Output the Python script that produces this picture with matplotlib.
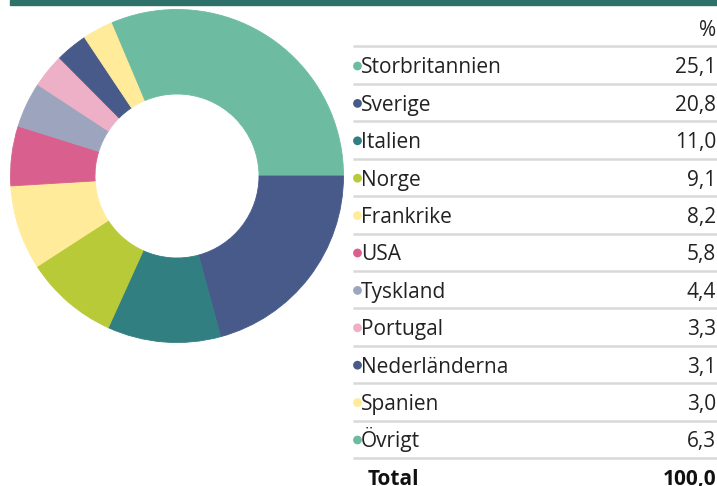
import matplotlib.pyplot as plt
from matplotlib.patches import Rectangle

# Data
countries = ['Storbritannien', 'Sverige', 'Italien', 'Norge', 'Frankrike', 'USA',
             'Tyskland', 'Portugal', 'Nederländerna', 'Spanien', 'Övrigt']
shares = [25.1, 20.8, 11.0, 9.1, 8.2, 5.8, 4.4, 3.3, 3.1, 3.0, 6.3]
share_labels = ['25,1', '20,8', '11,0', '9,1', '8,2', '5,8', '4,4', '3,3', '3,1', '3,0', '6,3']
total_label = '100,0'
colors = ['#6DBBA1', '#485A8A', '#327F82', '#B9CA38', '#FFEB99', '#D9608E',
          '#9DA5BE', '#EDB0C6', '#485A8A', '#FFEB99', '#6DBBA1']

W, H = 717, 486
fig = plt.figure(figsize=(W / 100, H / 100), dpi=100)
fig.patch.set_facecolor('white')
plt.rcParams['font.family'] = ['Open Sans', 'DejaVu Sans']

# header band (cut off at the top)
fig.patches.append(Rectangle((10 / W, 1 - 5 / H), 1, 5 / H, transform=fig.transFigure,
                             color='#2E7169', zorder=0))

# donut
cx, cy, r = 177, 176, 166.5
box = 172
ax = fig.add_axes([(cx - box) / W, (H - cy - box) / H, 2 * box / W, 2 * box / H])
wedges, _ = ax.pie(shares, colors=colors, startangle=shares[0] / sum(shares) * 360,
                   counterclock=False, radius=1, wedgeprops=dict(width=1 - 82 / r))
for w in wedges:
    w.set_edgecolor(w.get_facecolor())
    w.set_linewidth(0.6)
ax.set_xlim(-box / r, box / r)
ax.set_ylim(-box / r, box / r)
ax.set_aspect('equal')
ax.axis('off')

# table
tx = fig.add_axes([0, 0, 1, 1])
tx.set_xlim(0, W)
tx.set_ylim(H, 0)
tx.axis('off')
tx.patch.set_alpha(0)

row0, step = 66, 37.4
fs = 15
tc = '#222222'
base = 7.3  # baseline offset from row centre
tx.text(716, 36.5, '%', ha='right', va='baseline', fontsize=fs, color=tc)
for i, (name, lab, col) in enumerate(zip(countries, share_labels, colors)):
    y = row0 + i * step
    tx.plot([353, W], [y - 19.5, y - 19.5], color='#D9D9D9', lw=1.8, solid_capstyle='butt')
    tx.scatter([357.5], [y], s=40, color=col, edgecolors='none')
    tx.text(361, y + base, name, ha='left', va='baseline', fontsize=fs, color=tc)
    tx.text(716, y + base, lab, ha='right', va='baseline', fontsize=fs, color=tc)
y = row0 + len(countries) * step
tx.plot([353, W], [y - 19.5, y - 19.5], color='#D9D9D9', lw=1.8, solid_capstyle='butt')
tx.text(368, y + base, 'Total', ha='left', va='baseline', fontsize=fs, fontweight='bold',
        color='#111111')
tx.text(716, y + base, total_label, ha='right', va='baseline', fontsize=fs, fontweight='bold',
        color='#111111')

fig.savefig('out.png', dpi=100)
